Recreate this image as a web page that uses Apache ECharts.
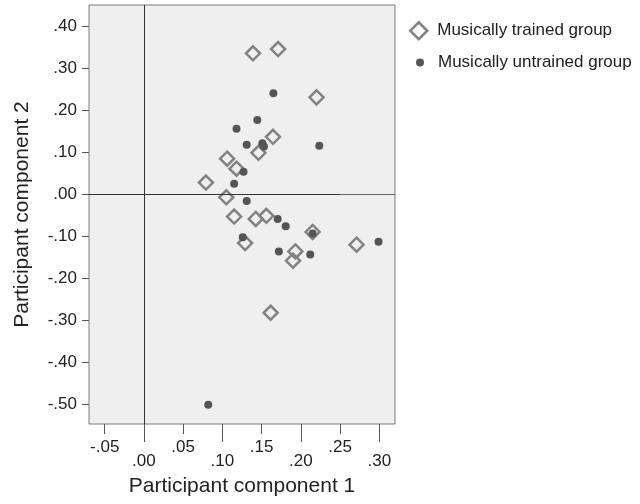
<!DOCTYPE html>
<html><head><meta charset="utf-8">
<script src="https://cdn.jsdelivr.net/npm/echarts@6/dist/echarts.min.js"></script>
<style>html,body{margin:0;padding:0;background:#fff}#c{width:640px;height:504px}</style>
</head><body><div id="c"></div>
<script>
const trainedX = [0.139,0.171,0.220,0.1645,0.146,0.106,0.118,0.079,0.105,0.115,0.1425,0.156,0.129,0.215,0.193,0.190,0.271,0.1615];
const trainedY = [0.335,0.345,0.230,0.136,0.098,0.084,0.060,0.027,-0.008,-0.054,-0.0595,-0.052,-0.117,-0.0905,-0.137,-0.159,-0.121,-0.283];
const untrainedX = [0.165,0.1445,0.118,0.131,0.151,0.153,0.2235,0.127,0.115,0.131,0.1705,0.1807,0.126,0.215,0.172,0.212,0.299,0.082];
const untrainedY = [0.240,0.176,0.155,0.117,0.121,0.113,0.115,0.053,0.024,-0.017,-0.060,-0.077,-0.103,-0.094,-0.137,-0.144,-0.114,-0.502];
const xTicks = [-0.05,0,0.05,0.10,0.15,0.20,0.25,0.30];
const xLongTicks = [0,0.10,0.20,0.30];
const yTicks = [-0.5,-0.4,-0.3,-0.2,-0.1,0,0.1,0.2,0.3,0.4];
const seriesNames = ['Musically trained group','Musically untrained group'];

function fmt(v){
  const s = Math.abs(v).toFixed(2).replace(/^0/,'');
  return (v < -1e-9 ? '-' : '') + s;
}
const XMIN = -0.07, XMAX = 0.32, YMIN = -0.548, YMAX = 0.45;
const font = '"Liberation Sans", Arial, sans-serif';
const chart = echarts.init(document.getElementById('c'));
chart.setOption({
  animation:false,
  textStyle:{fontFamily:font},
  grid:{left:89,right:245,top:5,bottom:80,containLabel:false,outerBoundsMode:'none',show:true,backgroundColor:'#efefef',borderColor:'#7a7a7a',borderWidth:1},
  legend:[{
    orient:'vertical',left:404,top:16,itemWidth:17,itemHeight:17,
    textStyle:{fontSize:17,color:'#222',fontFamily:font,padding:[0,0,0,5]},
    data:[{name:seriesNames[0],icon:'diamond',itemStyle:{color:'rgba(0,0,0,0)',borderColor:'#828282',borderWidth:2.5}}]
  },{
    orient:'vertical',left:411,top:49,itemWidth:8,itemHeight:8,
    textStyle:{fontSize:17,color:'#222',fontFamily:font,padding:[0,0,0,9]},
    data:[{name:seriesNames[1],icon:'circle',itemStyle:{color:'#555'}}]
  }],
  xAxis:[{
    type:'value',min:XMIN,max:XMAX,
    name:'Participant component 1',nameLocation:'middle',nameGap:52,nameMoveOverlap:false,
    nameTextStyle:{fontSize:21,color:'#222',fontFamily:font},
    axisLine:{show:false,onZero:false},splitLine:{show:false},
    axisTick:{show:true,length:10,lineStyle:{color:'#555'},customValues:xTicks},
    axisLabel:{
      customValues:xTicks,color:'#222',fontSize:17,margin:15,
      formatter:function(v){
        const i = Math.round((v+0.05)/0.05);
        return i%2===0 ? '{a|'+fmt(v)+'}' : '{b|'+fmt(v)+'}';
      },
      rich:{a:{fontSize:17,color:'#222',fontFamily:font},
            b:{fontSize:17,color:'#222',fontFamily:font,padding:[14,0,0,0]}}
    }
  },{
    type:'value',min:XMIN,max:XMAX,position:'bottom',
    axisLine:{show:false,onZero:false},splitLine:{show:false},axisLabel:{show:false},
    axisTick:{show:true,length:18,lineStyle:{color:'#555'},customValues:xLongTicks}
  }],
  yAxis:{
    type:'value',min:YMIN,max:YMAX,
    name:'Participant component 2',nameLocation:'middle',nameGap:56,nameMoveOverlap:false,
    nameTextStyle:{fontSize:21,color:'#222',fontFamily:font},
    axisLine:{show:false,onZero:false},splitLine:{show:false},
    axisTick:{show:true,length:7,lineStyle:{color:'#555'},customValues:yTicks},
    axisLabel:{customValues:yTicks,color:'#222',fontSize:17,margin:12,formatter:fmt}
  },
  series:[
    {
      name:seriesNames[0],type:'scatter',symbol:'diamond',symbolSize:14,
      itemStyle:{color:'rgba(0,0,0,0)',borderColor:'#828282',borderWidth:2.5,opacity:1},
      data:trainedX.map((x,i)=>[x,trainedY[i]]),z:3,
      markLine:{silent:true,symbol:'none',label:{show:false},animation:false,
        lineStyle:{color:'#333',width:1,type:'solid'},
        data:[
          {xAxis:0},
          [{coord:[XMIN,0]},{coord:[0.25,0]}],
          [{coord:[0.25,0],lineStyle:{color:'#6a6a6a'}},{coord:[XMAX,0],lineStyle:{color:'#6a6a6a'}}]
        ]}
    },
    {
      name:seriesNames[1],type:'scatter',symbol:'circle',symbolSize:8,
      itemStyle:{color:'#555',opacity:1},
      data:untrainedX.map((x,i)=>[x,untrainedY[i]]),z:4
    }
  ]
});
</script></body></html>
